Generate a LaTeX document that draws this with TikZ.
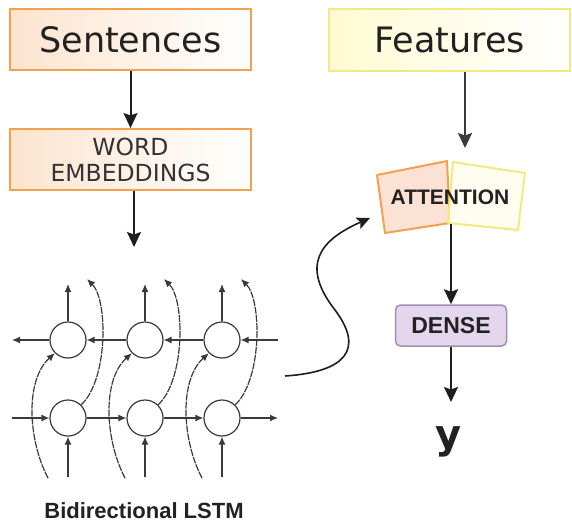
\documentclass[tikz,border=0pt]{standalone}
\usepackage{fontspec}
\setmainfont{DejaVu Sans}
\newfontfamily\boldsans{Liberation Sans}
\usetikzlibrary{arrows.meta}

\definecolor{orangeedge}{HTML}{F2A24E}
\definecolor{orangefill}{HTML}{FCE4CE}
\definecolor{yellowedge}{HTML}{F0EA80}
\definecolor{yellowfill}{HTML}{FEFBD2}
\definecolor{attorange}{HTML}{FBE2D4}
\definecolor{attyellow}{HTML}{FFFDEC}
\definecolor{densefill}{HTML}{E4D6EC}
\definecolor{denseedge}{HTML}{A58DB8}
\definecolor{textdark}{HTML}{222222}
\definecolor{textgrey}{HTML}{333333}
\definecolor{linedark}{HTML}{1E1E1E}
\definecolor{gridgrey}{HTML}{3A3A3A}

\begin{document}
\begin{tikzpicture}[x=1pt,y=-1pt,
  topbox/.style={draw, line width=2pt, minimum width=241pt, minimum height=61pt,
    inner sep=0pt, text=textdark},
  flow/.style={-{Stealth[length=15pt,width=14pt,inset=2.5pt]}, line width=2pt, draw=linedark},
  cell/.style={circle, draw=gridgrey, line width=1.2pt, minimum size=36pt, inner sep=0pt, fill=white},
  gridarrow/.style={-{Latex[length=8pt,width=7pt]}, line width=1.2pt, draw=gridgrey},
  skiparrow/.style={gridarrow, dash pattern=on 7pt off 1pt},
  boldlabel/.style={text=textdark, inner sep=0pt}
]
\useasboundingbox (0,0) rectangle (572,524);

% ---- left column: inputs ----
\node[topbox, draw=orangeedge, left color=orangefill, right color=white,
      font=\fontsize{35}{42}\selectfont] (sent) at (130.5,39.5) {Sentences};
\node[topbox, draw=orangeedge, left color=orangefill, right color=white,
      text=textgrey, align=center, font=\fontsize{23.5}{26}\selectfont]
      (word) at (130.5,159.5) {WORD\\EMBEDDINGS};
\draw[flow] (sent) -- (word);

\coordinate (lstmin) at (134,247);
\draw[flow] (word.south -| lstmin) -- (lstmin);

% ---- bidirectional LSTM grid ----
\foreach \k/\x in {1/68,2/145,3/222}{
  \node[cell] (t\k) at (\x,340) {};
  \node[cell] (b\k) at (\x,418) {};
  \coordinate (o\k) at (\x,284);
  \coordinate (i\k) at (\x,477);
  \coordinate (u\k) at (\x+19,279);
  \coordinate (d\k) at (\x-20,478);
}
\foreach \k in {1,2,3}{
  \draw[gridarrow] (t\k) -- (o\k);
  \draw[gridarrow] (i\k) -- (b\k);
  \draw[skiparrow] (b\k.45) .. controls +(27,-25) and +(21,21) .. (u\k);
  \draw[skiparrow] (d\k) .. controls +(-20,-38) and +(-30,27) .. (t\k.225);
}
\coordinate (tl) at (12,340);
\coordinate (tr) at (278,340);
\coordinate (bl) at (12,418);
\coordinate (br) at (278,418);
\draw[gridarrow] (t1) -- (tl);
\draw[gridarrow] (t2) -- (t1);
\draw[gridarrow] (t3) -- (t2);
\draw[gridarrow] (tr) -- (t3);
\draw[gridarrow] (bl) -- (b1);
\draw[gridarrow] (b1) -- (b2);
\draw[gridarrow] (b2) -- (b3);
\draw[gridarrow] (b3) -- (br);

\node[boldlabel, anchor=base, font=\boldsans\bfseries\fontsize{22}{26}\selectfont]
  (lstmlabel) at (144,518) {Bidirectional LSTM};

% ---- right column ----
\node[topbox, draw=yellowedge, left color=yellowfill, right color=white,
      minimum height=62pt, font=\fontsize{35}{42}\selectfont] (feat) at (449.5,40) {Features};

% attention block: two tilted squares
\filldraw[draw=orangeedge, fill=attorange, line width=2pt, line join=round]
  (377,175) -- (447,161) -- (450,223) -- (385,233) -- cycle;
\filldraw[draw=yellowedge, fill=attyellow, fill opacity=0.85, line width=2pt, line join=round]
  (453,162) -- (525,173) -- (518,230) -- (448,223) -- cycle;
\node[boldlabel, font=\boldsans\bfseries\fontsize{21}{25}\selectfont] (att) at (450,197) {ATTENTION};

\coordinate (attin) at (465,148);
\draw[flow, draw=gridgrey] (feat.south -| attin) -- (attin);

% recurrent output feeding the attention block
\coordinate (lstmout) at (285,376);
\coordinate (attleft) at (370,218);
\draw[-{Stealth[length=13pt,width=12pt,inset=2.5pt]}, line width=1.6pt, draw=linedark]
  (lstmout) .. controls (345,372) and (365,350) .. (335,310)
            .. controls (300,265) and (320,240) .. (attleft);

\node[draw=denseedge, fill=densefill, line width=1.5pt, rounded corners=5pt,
      minimum width=111pt, minimum height=41pt, inner sep=0pt, text=textdark,
      font=\boldsans\bfseries\fontsize{23}{27}\selectfont] (dense) at (451,325.5) {DENSE};
\coordinate (attout) at (451,224);
\draw[flow] (attout) -- (dense.north);

\node[anchor=base, inner sep=0pt, text=textdark, font=\bfseries\fontsize{40}{48}\selectfont]
  (yout) at (449,448) {y};
\coordinate (ytip) at (451,402);
\draw[flow] (dense.south) -- (ytip);
\end{tikzpicture}
\end{document}
